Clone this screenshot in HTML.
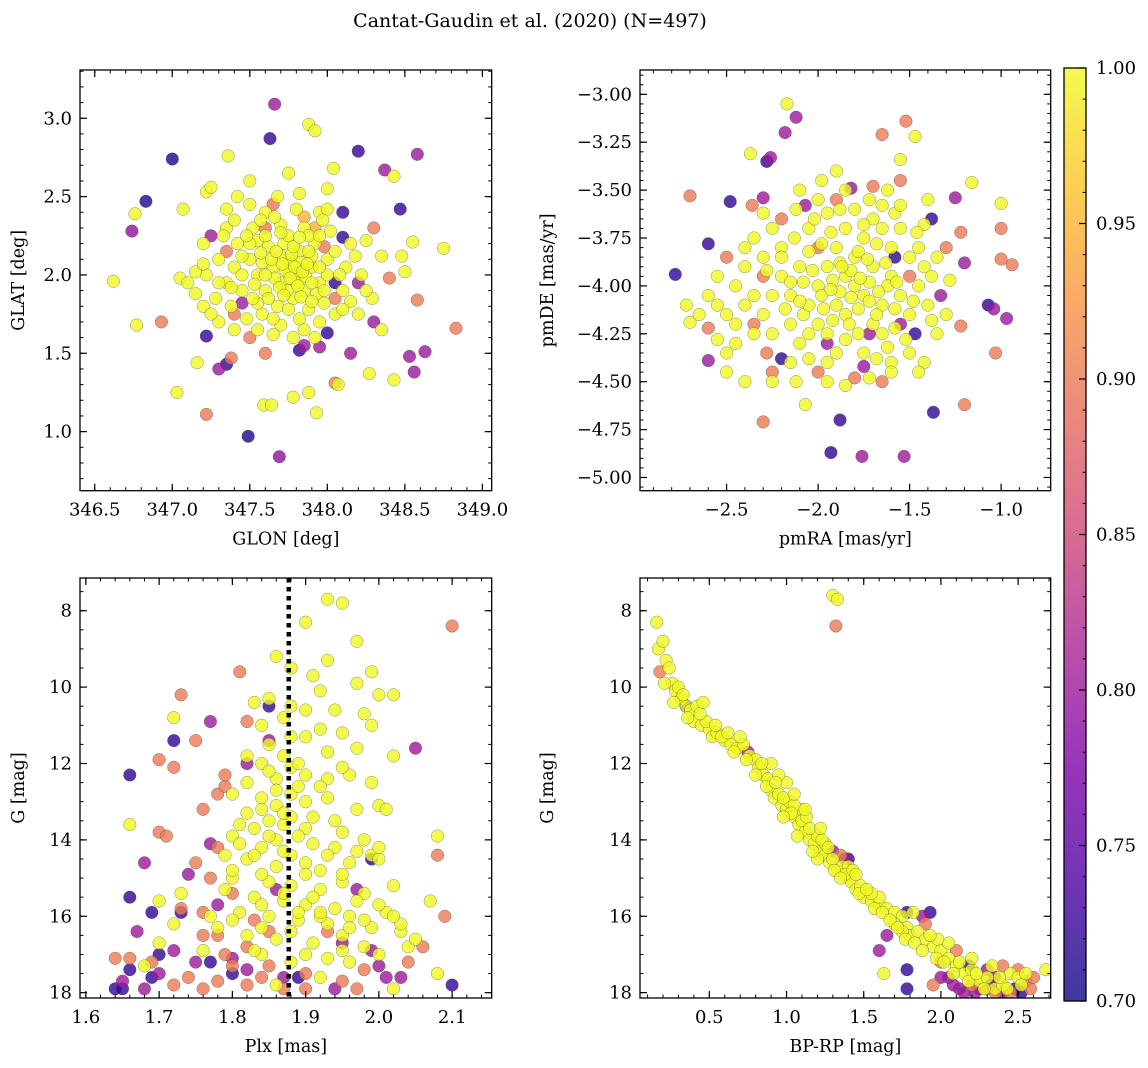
<!DOCTYPE html>
<html><head><meta charset="utf-8"><style>
html,body{margin:0;padding:0;background:#fff}
svg{display:block;font-family:"DejaVu Serif","Liberation Serif",serif}
</style></head><body>
<svg id="fig" width="1148" height="1068" viewBox="0 0 1148 1068" xmlns="http://www.w3.org/2000/svg">
<text x="530" y="27" font-size="19" text-anchor="middle">Cantat-Gaudin et al. (2020) (N=497)</text>
<defs><linearGradient id="cg" x1="0" y1="1" x2="0" y2="0">
<stop offset="0" stop-color="#0d0887"/><stop offset="0.125" stop-color="#4c02a1"/><stop offset="0.25" stop-color="#7e03a8"/><stop offset="0.375" stop-color="#a92395"/><stop offset="0.5" stop-color="#cc4778"/><stop offset="0.625" stop-color="#e56b5d"/><stop offset="0.75" stop-color="#f89441"/><stop offset="0.875" stop-color="#fdc328"/><stop offset="1" stop-color="#f0f921"/></linearGradient></defs>
</svg>
<script>
// ---- data: [x, y, membership] ----
const posPoints = [
[347.66,3.09,0.8],[347.63,2.87,0.72],[347.0,2.74,0.71],[346.83,2.47,0.71],[346.74,2.28,0.79],[346.76,2.39,1],[346.62,1.96,1],[346.77,1.68,1],[346.93,1.70,0.9],[347.03,1.25,1],[347.22,1.11,0.9],[347.49,0.97,0.71],[347.69,0.84,0.79],[347.36,2.76,1],[347.88,2.96,1],[348.2,2.79,0.72],[348.37,2.67,0.8],[348.58,2.77,0.8],[348.43,2.63,1],[348.47,2.42,0.72],[348.04,2.68,1],[347.92,2.92,1],[348.83,1.66,0.9],[348.58,1.84,0.9],[348.63,1.51,0.8],[348.53,1.48,0.8],[348.56,1.38,0.8],[348.43,1.33,1],[348.27,1.37,1],[348.05,1.31,0.9],[348.07,1.30,1],[347.88,1.25,1],[347.93,1.12,1],[347.59,1.17,1],[347.64,1.17,1],[347.78,1.22,1],[347.3,1.4,0.8],[347.35,1.43,0.72],[347.22,1.61,0.72],[347.16,1.44,1],[347.38,1.47,0.9],[347.05,1.98,1],[347.07,2.42,1],[347.22,2.53,1],[347.25,2.56,1],[347.5,2.6,1],[347.75,2.65,1],[347.82,2.52,1],[347.95,2.4,1],[348.0,2.42,1],[348.1,2.4,0.72],[348.3,2.3,0.9],[348.25,2.22,1],[348.35,2.12,1],[348.48,2.12,1],[348.55,2.21,1],[348.75,2.17,1],[348.5,2.02,1],[348.4,1.98,0.9],[348.29,1.85,1],[348.15,1.83,1],[348.05,1.95,0.72],[348.1,2.24,0.72],[348.0,1.63,0.72],[347.95,1.54,0.8],[347.82,1.52,0.72],[347.5,1.6,0.9],[347.3,1.7,1],[347.2,1.8,1],[347.1,1.95,1],[347.2,2.2,1],[347.25,2.25,0.8],[347.35,2.3,1],[348.3,1.7,0.8],[348.35,1.65,1],[348.2,1.95,0.8],[348.15,1.5,0.8],[347.6,2.3,0.9],[347.6,1.5,0.9],
[347.5,2.1,1],[347.55,2.0,1],[347.6,1.9,1],[347.65,2.05,1],[347.7,1.95,1],[347.75,2.1,1],[347.8,2.0,1],[347.85,1.9,1],[347.9,2.05,1],[347.95,1.95,1],[348.0,2.1,1],[347.72,2.2,1],[347.82,2.15,1],[347.62,2.18,1],[347.92,2.2,1],[347.78,1.85,1],[347.68,1.8,1],[347.88,1.78,1],[347.58,1.75,1],[347.98,1.82,1],[347.45,1.9,1],[347.4,2.05,1],[347.42,2.2,1],[347.52,2.3,1],[347.7,2.32,1],[347.85,2.3,1],[348.02,2.28,1],[347.35,1.95,1],[347.38,1.8,1],[347.48,1.72,1],[347.7,1.68,1],[347.85,1.65,1],[348.05,1.75,1],[348.1,1.9,1],[348.12,2.05,1],[347.3,2.1,1],[347.28,1.85,1],[347.6,2.4,1],[347.8,2.42,1],[347.5,2.45,1],[347.4,2.35,1],[347.65,1.62,1],[347.75,2.02,1],[347.8,1.95,1],[347.74,1.9,1],[347.83,2.08,1],[347.66,1.98,1],[347.77,2.07,1],[347.86,1.99,1],[347.7,2.12,1],[347.9,2.12,1],[347.58,2.08,1],[347.62,1.85,1],[347.93,1.88,1],[348.18,2.12,1],[347.22,2.0,1],[347.15,2.02,1],[347.55,2.22,1],[347.97,2.35,1],[347.33,2.25,1],[347.45,2.0,1],[347.88,2.25,1],[347.55,1.82,1],[347.82,1.72,1],[348.2,1.75,1],[347.25,1.75,1],[347.4,1.65,1],[347.75,2.25,1],[348.0,2.0,1],[347.95,1.7,1]
];
const posCore = [
[347.73,2.03,1],[347.79,2.05,1],[347.84,2.02,1],[347.76,1.98,1],[347.71,2.07,1],[347.81,1.93,1],[347.87,2.07,1],[347.69,1.92,1],[347.77,2.13,1],[347.64,2.1,1],[347.9,1.95,1],[347.72,1.87,1],[347.83,1.86,1],[347.67,2.15,1],[347.95,2.05,1],[347.6,2.0,1],[347.53,1.94,1],[347.78,2.18,1],[347.88,2.15,1],[347.57,2.14,1],[347.98,1.9,1],[347.65,1.72,1],[347.75,1.78,1],[347.9,1.83,1],[347.5,2.2,1],[348.05,2.15,1],[347.6,2.25,1],[347.82,2.24,1],[347.45,2.12,1],[347.52,1.85,1],[348.08,2.0,1],[347.7,2.27,1],[347.95,2.25,1],[347.38,1.92,1],[347.48,2.25,1],[347.92,2.3,0.95],[347.57,2.35,1],[347.66,2.37,1],[348.15,2.2,1],[348.1,1.78,1],[347.4,1.75,0.9],[347.35,2.15,0.9],[347.45,1.82,0.8],[347.98,2.18,0.9],[348.05,1.85,0.9],[347.85,2.37,0.95],[347.3,1.95,1],[347.65,2.45,0.9],[347.78,1.6,1],[347.92,1.6,1],[347.55,1.65,1],[348.22,2.0,1],[347.2,2.07,1],[347.35,2.42,1],[348.0,2.55,1],[347.85,1.55,0.8],[347.68,2.5,1],[347.42,2.5,1],[348.25,1.9,1],[347.15,1.88,1]
];
const pmPoints = [
[-2.78,-3.94,0.72],[-2.7,-3.53,0.9],[-2.48,-3.56,0.72],[-2.6,-3.78,0.72],[-2.6,-4.39,0.8],[-2.6,-4.22,0.9],[-2.72,-4.1,1],[-2.7,-4.19,1],[-2.3,-4.71,0.9],[-2.07,-4.62,1],[-1.88,-4.7,0.72],[-1.93,-4.87,0.72],[-1.76,-4.89,0.8],[-1.53,-4.89,0.8],[-1.37,-4.66,0.72],[-1.2,-4.62,0.9],[-1.03,-4.35,0.9],[-0.94,-3.89,0.9],[-1.0,-3.86,0.9],[-1.0,-3.57,1],[-1.0,-3.7,0.9],[-1.07,-4.1,0.72],[-1.04,-4.12,0.8],[-0.97,-4.17,0.8],[-1.16,-3.46,1],[-1.25,-3.54,0.8],[-1.47,-3.22,1],[-1.52,-3.14,0.9],[-1.65,-3.21,0.9],[-2.17,-3.05,1],[-2.12,-3.12,0.8],[-2.18,-3.2,0.8],[-2.28,-3.35,0.72],[-2.26,-3.33,0.8],[-2.37,-3.31,1],[-2.36,-3.58,0.9],[-2.3,-3.54,0.8],[-2.07,-3.58,0.8],[-1.82,-3.49,0.8],[-1.7,-3.48,0.9],[-1.55,-3.45,0.9],[-1.55,-3.34,1],[-1.42,-3.68,1],[-1.38,-3.65,0.72],[-1.3,-3.8,0.9],[-1.22,-3.72,0.9],[-1.2,-3.88,0.8],[-1.28,-3.97,1],[-1.33,-4.05,0.8],[-1.22,-4.21,0.9],[-1.3,-4.15,1],[-1.38,-4.18,1],[-1.47,-4.25,0.72],[-1.42,-4.4,1],[-1.6,-4.4,1],[-1.65,-4.5,0.9],[-1.8,-4.48,0.9],[-1.85,-4.52,1],[-2.0,-4.45,0.9],[-2.2,-4.38,0.72],[-2.25,-4.45,0.9],[-2.4,-4.5,1],[-2.5,-4.45,1],[-2.45,-4.3,1],[-2.55,-4.28,1],[-2.6,-4.05,1],[-2.55,-3.95,1],[-2.5,-3.85,0.9],[-2.35,-3.75,1],[-2.2,-3.8,1],[-2.3,-3.95,0.9],[-2.4,-4.1,1],[-2.35,-4.2,0.9],[-2.28,-4.35,0.9],[-2.12,-4.5,1],[-1.95,-4.3,0.8],[-1.72,-4.25,0.8],[-1.55,-4.2,0.8],[-1.58,-3.85,0.72],[-1.5,-3.95,0.9],[-2.0,-3.8,0.9],[-2.08,-4.15,1],[-1.46,-3.72,1],
[-1.8,-4.0,1],[-1.85,-3.95,1],[-1.75,-4.05,1],[-1.9,-4.1,1],[-1.7,-3.9,1],[-1.95,-3.9,1],[-1.65,-4.1,1],[-1.8,-3.85,1],[-1.85,-4.15,1],[-1.7,-4.2,1],[-2.0,-4.0,1],[-2.05,-4.1,1],[-1.6,-3.95,1],[-1.55,-4.05,1],[-2.1,-3.9,1],[-1.9,-3.8,1],[-1.75,-3.75,1],[-1.6,-3.8,1],[-2.0,-4.2,1],[-1.95,-4.25,1],[-1.65,-4.25,1],[-1.5,-4.15,1],[-2.15,-4.05,1],[-2.2,-3.85,1],[-1.85,-3.7,1],[-2.05,-3.7,1],[-1.7,-3.65,1],[-1.5,-3.85,1],[-1.45,-4.0,1],[-2.15,-4.2,1],[-2.25,-4.05,1],[-1.78,-4.12,1],[-1.88,-4.03,1],[-1.72,-3.98,1],[-1.62,-4.0,1],[-1.92,-3.97,1],[-1.82,-3.92,1],[-1.98,-4.05,1],[-1.68,-4.15,1],[-1.58,-4.12,1],[-2.08,-3.98,1],[-1.95,-3.62,1],[-1.8,-3.6,1],[-2.0,-3.55,1],[-1.65,-3.58,1],[-2.25,-3.7,1],[-2.3,-3.85,1],[-2.4,-3.9,1],[-1.42,-3.9,1],[-1.4,-4.1,1],[-1.9,-4.35,1],[-1.75,-4.35,1],[-2.1,-4.3,1],[-1.62,-4.32,1],[-2.45,-4.0,1],[-1.55,-3.7,1],[-2.12,-3.6,1],[-1.78,-3.82,1],[-1.88,-3.88,1],[-2.05,-3.82,1],[-1.92,-4.18,1],[-1.72,-4.08,1],[-1.52,-4.28,1],[-2.3,-4.15,1],[-1.85,-3.5,1],[-2.2,-3.95,1],[-1.98,-3.45,1],[-2.35,-4.25,1],[-2.5,-4.15,1],[-1.35,-3.85,1],[-2.15,-4.4,1],[-1.5,-4.35,1],[-1.98,-3.78,1]
];
const pmCore = [
[-1.82,-4.06,1],[-1.77,-3.96,1],[-1.87,-3.9,1],[-1.73,-3.86,1],[-1.67,-4.03,1],[-1.93,-4.02,1],[-1.83,-4.2,1],[-1.78,-4.25,1],[-1.63,-3.88,1],[-1.57,-3.98,1],[-2.03,-3.92,1],[-2.1,-4.08,1],[-1.97,-4.12,1],[-1.68,-3.78,1],[-1.93,-3.72,1],[-2.02,-3.65,1],[-1.75,-3.68,1],[-1.58,-3.62,1],[-2.13,-3.75,1],[-2.18,-4.12,1],[-2.05,-4.25,1],[-1.58,-4.22,1],[-1.48,-4.08,1],[-1.45,-3.8,1],[-2.28,-3.92,1],[-2.35,-4.05,1],[-1.88,-3.6,1],[-1.72,-3.55,1],[-1.85,-4.28,1],[-1.68,-4.38,1],[-2.25,-4.25,1],[-1.95,-4.4,1],[-2.4,-3.8,1],[-2.45,-4.2,1],[-1.38,-3.95,1],[-1.6,-4.45,1],[-1.9,-3.55,0.9],[-2.2,-3.65,0.9],[-1.75,-4.42,0.8],[-2.05,-4.38,1],[-1.45,-4.45,1],[-2.5,-4.35,1],[-1.35,-4.25,1],[-2.55,-4.1,1],[-2.25,-4.5,1],[-1.9,-3.4,1],[-1.62,-3.5,1],[-2.1,-3.5,1],[-2.3,-3.62,1],[-1.4,-3.55,1],[-2.65,-4.15,1],[-1.55,-3.58,1],[-2.15,-3.98,1],[-1.65,-3.7,1],[-1.95,-4.5,1],[-1.72,-4.48,1]
];
const plxPoints = [
[1.93,7.7,1],[1.95,7.8,1],[1.9,8.3,1],[1.97,8.8,1],[1.86,9.2,1],[1.93,9.3,1],[1.88,9.5,1],[1.91,9.7,1],[1.99,9.6,1],[1.97,9.9,1],[2.0,10.2,1],[2.02,10.2,1],[1.92,10.1,1],[1.85,10.3,1],[1.83,10.4,1],[1.88,10.5,1],[1.9,10.6,1],[1.94,10.6,1],[1.98,10.7,1],[1.87,10.8,1],[1.84,11.0,1],[1.92,11.1,1],[1.95,11.2,1],[1.88,11.3,1],[1.9,11.3,1],[1.85,11.5,1],[1.82,11.8,1],[1.87,11.8,1],[1.93,11.7,1],[1.97,11.6,1],[2.02,11.8,1],[1.72,10.8,1],[1.99,11.0,1],[1.84,12.0,1],[1.88,12.1,1],[1.9,12.3,1],[1.86,12.4,1],[1.82,12.5,1],[1.93,12.4,1],[1.96,12.3,1],[1.8,12.8,1],[1.84,12.9,1],[1.88,12.8,1],[1.86,13.1,1],[1.9,13.0,1],[1.93,12.9,1],[1.97,13.2,1],[2.0,13.1,1],[1.82,13.3,1],[1.85,13.5,1],[1.88,13.4,1],[1.83,13.7,1],[1.87,13.6,1],[1.9,13.7,1],[1.95,13.8,1],[1.8,13.9,1],[1.86,14.0,1],[1.91,14.1,1],[1.94,14.2,1],[1.97,14.3,1],[1.99,14.4,1],[1.84,14.2,1],[1.88,14.4,1],[1.82,14.5,1],[1.86,14.7,1],[1.9,14.6,1],[1.92,14.8,1],[1.96,14.6,1],[2.0,14.5,1],[1.8,15.0,1],[1.85,15.1,1],[1.88,15.2,1],[1.92,15.3,1],[1.95,15.1,1],[1.98,15.4,1],[2.02,15.2,1],[1.83,15.5,1],[1.87,15.6,1],[1.9,15.7,1],[1.94,15.8,1],[1.97,15.6,1],[2.01,15.9,1],[1.81,15.9,1],[1.85,16.0,1],[1.89,16.1,1],[1.93,16.2,1],[1.96,16.0,1],[1.99,16.3,1],[2.03,16.4,1],[1.78,16.3,1],[1.82,16.5,1],[1.86,16.6,1],[1.91,16.7,1],[1.95,16.5,1],[1.98,16.8,1],[2.0,17.0,1],[2.04,16.8,1],[1.76,16.9,1],[1.84,17.0,1],[1.88,17.2,1],[1.93,17.1,1],[2.08,13.9,1],[2.07,15.6,1],[2.08,17.5,1],[1.73,15.4,1],[1.7,16.7,1],[1.7,15.6,1],[1.72,16.2,1],[1.68,17.3,1],[1.86,17.8,1],[1.92,17.6,1],[2.02,17.9,1],[1.66,13.6,1],[1.77,16.0,1],[1.98,16.1,1],[2.03,16.2,1],[1.8,14.8,1],[1.89,15.9,1],[1.93,14.4,1],[2.01,13.2,1],
[2.1,8.4,0.9],[1.73,10.2,0.9],[1.81,9.6,0.9],[1.75,11.4,0.9],[1.7,11.9,0.9],[1.72,12.1,0.9],[1.78,12.8,0.9],[1.79,12.6,0.9],[1.7,13.8,0.9],[1.71,13.9,0.9],[1.77,15.0,0.9],[1.73,15.8,0.9],[1.76,15.9,0.9],[1.69,17.2,0.9],[1.64,17.1,0.9],[1.66,17.1,0.9],[1.74,17.6,0.9],[1.78,17.7,0.9],[1.8,17.3,0.9],[1.82,17.8,0.9],[1.84,17.6,0.9],[1.87,17.9,0.9],[1.9,17.5,0.9],[1.95,17.7,0.9],[1.98,17.4,0.9],[2.06,16.8,0.9],[2.08,14.4,0.9],[2.09,16.0,0.9],[1.8,15.4,0.9],[1.82,16.8,0.9],[1.75,14.6,0.9],[1.78,16.5,0.9],[1.85,16.4,0.9],
[1.77,10.9,0.8],[1.82,12.0,0.8],[1.85,11.4,0.8],[2.05,11.6,0.8],[1.68,14.6,0.8],[1.77,14.1,0.8],[1.74,14.9,0.8],[1.86,15.3,0.8],[1.95,16.7,0.8],[1.99,16.9,0.8],[2.03,17.6,0.8],[1.72,16.9,0.8],[1.7,17.5,0.8],[1.65,17.7,0.8],[1.75,17.2,0.8],[1.8,17.1,0.8],[2.01,17.6,0.8],[1.67,16.4,0.8],[1.78,15.7,0.8],[1.97,15.3,0.8],[1.68,17.9,0.8],
[1.66,12.3,0.72],[1.72,11.4,0.72],[1.85,10.5,0.72],[1.99,14.5,0.72],[1.66,15.5,0.72],[1.69,15.9,0.72],[1.73,15.9,0.72],[1.64,17.9,0.72],[1.65,17.9,0.72],[1.66,17.4,0.72],[1.69,17.6,0.72],[1.8,17.5,0.72],[2.1,17.8,0.72],[1.7,17.0,0.72]
];
const plxCore = [
[1.86,12.7,1],[1.89,12.6,1],[1.84,13.2,1],[1.87,13.3,1],[1.91,13.4,1],[1.85,13.9,1],[1.89,13.9,1],[1.83,14.4,1],[1.87,14.3,1],[1.9,14.9,1],[1.84,14.9,1],[1.87,15.4,1],[1.91,15.5,1],[1.84,15.7,1],[1.92,16.0,1],[1.88,16.4,1],[1.84,16.3,1],[1.96,16.3,1],[1.92,15.9,1],[1.95,14.9,1],[1.94,13.5,1],[1.81,14.1,1],[1.89,12.0,1],[1.92,12.6,1],[1.85,12.2,1],[1.95,12.1,1],[2.0,15.7,1],[2.02,16.0,1],[2.05,16.6,1],[1.96,17.2,1],[1.8,16.1,1],[1.83,16.9,1],[1.79,15.3,1],[1.81,13.6,1],[1.79,14.4,1],[1.98,14.0,1],[1.99,12.5,1],[2.0,14.2,1],[1.95,16.9,1],[1.9,17.0,1],[1.76,16.5,0.9],[1.79,17.0,0.9],[1.85,17.3,0.9],[1.9,17.9,0.9],[1.97,17.9,0.9],[1.76,17.9,0.9],[1.72,17.8,0.9],[2.0,17.3,0.8],[1.87,17.6,0.8],[1.82,17.4,0.8],[1.93,16.4,0.9],[1.83,16.1,0.9],[1.78,14.2,0.9],[1.76,13.2,0.9],[1.79,12.3,0.9],[1.82,10.9,0.9],[1.77,17.2,0.72],[1.89,17.6,0.72],[1.94,17.9,0.8],[2.04,17.2,0.9]
];
const cmdPoints = [
[0.16,8.3,1],[0.17,9.0,1],[0.2,8.8,1],[0.22,9.3,1],[0.24,9.5,1],[0.26,9.9,1],[0.28,10.1,1],[0.3,10.0,1],[0.32,10.3,1],[0.35,10.5,1],[0.38,10.6,1],[0.4,10.9,1],[0.42,10.5,1],[0.45,11.0,1],[0.5,11.1,1],[0.52,11.3,1],[0.55,11.2,1],[0.6,11.4,1],[0.64,11.5,1],[0.68,11.6,1],[0.72,11.5,1],[0.76,11.8,1],[0.8,11.9,1],[0.82,12.1,1],[0.85,12.3,1],[0.88,12.4,1],[0.9,12.7,1],[0.92,12.9,1],[0.95,12.8,1],[0.97,13.1,1],[1.0,13.2,1],[1.02,13.0,1],[1.05,13.4,1],[1.08,13.6,1],[1.1,13.5,1],[1.12,13.8,1],[1.15,14.0,1],[1.18,14.1,1],[1.2,13.9,1],[1.22,14.3,1],[1.25,14.4,1],[1.28,14.6,1],[1.3,14.5,1],[1.33,14.8,1],[1.36,14.7,1],[1.4,15.0,1],[1.42,15.1,1],[1.45,15.3,1],[1.48,15.2,1],[1.5,15.5,1],[1.55,15.6,1],[1.6,15.7,1],[1.65,15.8,1],[1.7,15.9,1],[1.75,16.0,1],[1.78,16.3,1],[1.8,16.5,1],[1.85,16.4,1],[1.9,16.6,1],[1.95,16.8,1],[2.0,16.9,1],[2.05,17.1,1],[2.1,17.3,1],[2.15,17.5,1],[2.2,17.4,1],[2.25,17.7,1],[2.3,17.6,1],[2.35,17.9,1],[2.4,17.8,1],[2.45,17.5,1],[2.5,17.6,1],[2.68,17.4,1],[1.3,7.6,1],[1.33,7.7,1],[1.63,17.5,1],[1.0,12.5,1],[0.95,12.3,1],[1.1,13.2,1],[1.2,14.5,1],[0.7,11.3,1],[1.6,15.5,1],[1.75,16.4,1],[2.05,16.7,1],[0.9,12.0,1],[1.4,14.7,1],[0.33,10.2,1],[0.48,10.9,1],[1.15,13.7,1],[1.38,14.9,1],[2.2,17.1,1],[1.55,15.4,1],[1.82,15.9,1],[1.98,16.6,1],[0.58,11.3,1],[1.7,16.2,1],[1.25,14.1,1],[1.05,13.1,1],
[0.18,9.6,0.9],[1.32,8.4,0.9],[2.4,17.3,0.9],[2.55,17.7,0.9],[2.58,17.9,0.9],[2.2,17.8,0.9],[1.95,17.8,0.9],[2.3,17.9,0.9],[2.5,17.4,0.9],[2.1,16.9,0.9],[1.9,16.2,0.9],[1.35,14.4,0.9],[2.45,18.0,0.9],[2.0,17.2,0.9],
[1.6,16.9,0.8],[2.05,17.6,0.8],[2.12,17.9,0.8],[2.15,18.0,0.8],[2.25,17.9,0.8],[2.35,17.6,0.8],[2.0,17.6,0.8],[1.65,16.5,0.8],[2.4,18.0,0.8],[0.75,11.7,0.8],[1.38,14.5,0.8],[2.3,17.4,0.8],
[1.78,17.4,0.72],[1.78,17.9,0.72],[2.48,17.9,0.72],[1.78,15.9,0.72],[1.93,15.9,0.72],[1.4,14.5,0.72],[0.35,10.5,0.72],[2.32,17.8,0.72]
];
const cmdCore = [
[0.21,9.9,1],[0.27,10.4,1],[0.36,10.8,1],[0.44,10.7,1],[0.54,11.0,1],[0.62,11.2,1],[0.66,11.7,1],[0.74,11.9,1],[0.84,12.0,1],[0.87,12.6,1],[0.93,12.5,1],[0.98,12.9,1],[1.03,13.3,1],[0.98,13.4,1],[1.07,13.9,1],[1.13,13.4,1],[1.17,14.3,1],[1.23,14.0,1],[1.27,14.2,1],[1.31,14.8,1],[1.35,15.0,1],[1.43,14.8,1],[1.47,15.4,1],[1.52,15.3,1],[1.57,15.8,1],[1.62,15.9,1],[1.67,16.1,1],[1.72,16.3,1],[1.77,16.6,1],[1.83,16.7,1],[1.88,16.9,1],[1.93,16.5,1],[1.97,17.1,1],[2.02,17.2,1],[2.08,17.5,1],[2.12,17.2,1],[2.18,17.7,1],[2.23,17.5,1],[2.28,17.9,1],[2.33,17.3,1],[2.38,17.6,1],[2.43,17.9,1],[2.52,17.8,1],[2.55,17.5,1],[1.05,12.8,1],[1.12,13.2,1],[1.22,13.7,1],[1.45,14.9,1],[0.8,12.3,1],[0.46,10.4,1],[2.6,17.6,0.9],[2.35,18.0,0.9],[2.22,18.0,0.8],[2.08,17.8,0.8],[1.88,16.0,0.8],[1.3,14.3,0.8],[2.52,18.0,0.72],[2.18,17.3,0.72]
];
const tlXTicks = [346.5,347.0,347.5,348.0,348.5,349.0];
const tlYTicks = [1.0,1.5,2.0,2.5,3.0];
const trXTicks = [-2.5,-2.0,-1.5,-1.0];
const trYTicks = [-5.0,-4.75,-4.5,-4.25,-4.0,-3.75,-3.5,-3.25,-3.0];
const blXTicks = [1.6,1.7,1.8,1.9,2.0,2.1];
const gTicks = [8,10,12,14,16,18];
const brXTicks = [0.5,1.0,1.5,2.0,2.5];
const cbTicks = [0.70,0.75,0.80,0.85,0.90,0.95,1.00];
const plxMedian = 1.877;

const NS="http://www.w3.org/2000/svg";
const svg=document.getElementById('fig');
function mk(tag,attrs,parent){const e=document.createElementNS(NS,tag);for(const k in attrs)e.setAttribute(k,attrs[k]);(parent||svg).appendChild(e);return e;}
const stops=[[13,8,135],[76,2,161],[126,3,168],[169,35,149],[204,71,120],[229,107,93],[248,148,65],[253,195,40],[240,249,33]];
function plasma(p){let t=(p-0.7)/0.3;t=Math.max(0,Math.min(1,t));const s=t*8,i=Math.min(7,Math.floor(s)),f=s-i;const a=stops[i],b=stops[i+1];return `rgb(${Math.round(a[0]+(b[0]-a[0])*f)},${Math.round(a[1]+(b[1]-a[1])*f)},${Math.round(a[2]+(b[2]-a[2])*f)})`;}
function fmt(v,d){const s=v.toFixed(d);return v<0?'\u2212'+s.slice(1):s;}
const FS=18;

function panel(o){
  const g=mk('g',{});
  
  
  const sx=v=>o.x0+(v-o.xd[0])/(o.xd[1]-o.xd[0])*(o.x1-o.x0);
  const sy=o.inv ? (v=>o.y0+(v-o.yd[0])/(o.yd[1]-o.yd[0])*(o.y1-o.y0))
                 : (v=>o.y1-(v-o.yd[0])/(o.yd[1]-o.yd[0])*(o.y1-o.y0));
  const cl='cl'+o.name;
  const cp=mk('clipPath',{id:cl},g);mk('rect',{x:o.x0,y:o.y0,width:o.x1-o.x0,height:o.y1-o.y0},cp);
  const pg=mk('g',{'clip-path':`url(#${cl})`},g);
  const pts=o.data.slice().sort((a,b)=>a[2]-b[2]);
  pts.forEach(d=>{
    const c=mk('circle',{cx:sx(d[0]).toFixed(1),cy:sy(d[1]).toFixed(1),r:6.3,fill:plasma(d[2]),'fill-opacity':0.8,stroke:'#444','stroke-opacity':0.6,'stroke-width':0.5},pg);
    
    
  });
  if(o.vline!==undefined){
    const l=mk('line',{x1:sx(o.vline),x2:sx(o.vline),y1:o.y0,y2:o.y1,stroke:'#000','stroke-width':4.5,'stroke-dasharray':'4.5 4.5'},g);
    
    
  }
  const lo=Math.min(o.yd[0],o.yd[1]),hi=Math.max(o.yd[0],o.yd[1]);
  for(let v=Math.ceil(o.xd[0]/o.xm-1e-9)*o.xm;v<=o.xd[1];v+=o.xm){const X=sx(v);mk('line',{x1:X,x2:X,y1:o.y1,y2:o.y1-3.5,stroke:'#000','stroke-width':1},g);mk('line',{x1:X,x2:X,y1:o.y0,y2:o.y0+3.5,stroke:'#000','stroke-width':1},g);}
  for(let v=Math.ceil(lo/o.ym-1e-9)*o.ym;v<=hi;v+=o.ym){const Y=sy(v);mk('line',{x1:o.x0,x2:o.x0+3.5,y1:Y,y2:Y,stroke:'#000','stroke-width':1},g);mk('line',{x1:o.x1,x2:o.x1-3.5,y1:Y,y2:Y,stroke:'#000','stroke-width':1},g);}
  o.xt.forEach(v=>{const X=sx(v);mk('line',{x1:X,x2:X,y1:o.y1,y2:o.y1-7,stroke:'#000','stroke-width':1.2},g);mk('line',{x1:X,x2:X,y1:o.y0,y2:o.y0+7,stroke:'#000','stroke-width':1.2},g);
    const t=mk('text',{x:X,y:o.y1+25,'font-size':FS,'text-anchor':'middle'},g);t.textContent=fmt(v,o.xdp);
    
    });
  o.yt.forEach(v=>{const Y=sy(v);mk('line',{x1:o.x0,x2:o.x0+7,y1:Y,y2:Y,stroke:'#000','stroke-width':1.2},g);mk('line',{x1:o.x1,x2:o.x1-7,y1:Y,y2:Y,stroke:'#000','stroke-width':1.2},g);
    const t=mk('text',{x:o.x0-8,y:Y+6,'font-size':FS,'text-anchor':'end'},g);t.textContent=fmt(v,o.ydp);
    
    });
  const fr=mk('rect',{x:o.x0,y:o.y0,width:o.x1-o.x0,height:o.y1-o.y0,fill:'none',stroke:'#000','stroke-width':1.3},g);
  
  
  const xl=mk('text',{x:(o.x0+o.x1)/2,y:o.y1+54,'font-size':17.5,'text-anchor':'middle'},g);xl.textContent=o.xlab;
  
  
  const yc=(o.y0+o.y1)/2;
  const yl=mk('text',{x:o.ylx,y:yc,'font-size':17.5,'text-anchor':'middle',transform:`rotate(-90 ${o.ylx} ${yc})`},g);yl.textContent=o.ylab;
  
  
}
panel({name:'position-panel',data:posPoints.concat(posCore),x0:80,x1:491.7,y0:70,y1:490.7,xd:[346.405,349.06],yd:[0.623,3.308],xt:tlXTicks,yt:tlYTicks,xm:0.1,ym:0.1,xdp:1,ydp:1,xlab:'GLON [deg]',ylab:'GLAT [deg]',ylx:24});
panel({name:'proper-motion-panel',data:pmPoints.concat(pmCore),x0:640,x1:1050.7,y0:70,y1:490.7,xd:[-2.973,-0.729],yd:[-5.069,-2.873],xt:trXTicks,yt:trYTicks,xm:0.1,ym:0.05,xdp:1,ydp:2,xlab:'pmRA [mas/yr]',ylab:'pmDE [mas/yr]',ylx:553});
panel({name:'parallax-panel',data:plxPoints.concat(plxCore),inv:true,x0:80,x1:491.7,y0:578,y1:998,xd:[1.592,2.154],yd:[7.143,18.14],xt:blXTicks,yt:gTicks,xm:0.02,ym:0.5,xdp:1,ydp:0,xlab:'Plx [mas]',ylab:'G [mag]',ylx:24,vline:plxMedian});
panel({name:'cmd-panel',data:cmdPoints.concat(cmdCore),inv:true,x0:640,x1:1050.7,y0:578,y1:998,xd:[0.051,2.711],yd:[7.143,18.14],xt:brXTicks,yt:gTicks,xm:0.1,ym:0.5,xdp:1,ydp:0,xlab:'BP-RP [mag]',ylab:'G [mag]',ylx:553});

(function(){
  const cg=mk('g',{});
  
  
  const cx0=1064,cx1=1086,cy0=68,cy1=1001;
  mk('rect',{x:cx0,y:cy0,width:cx1-cx0,height:cy1-cy0,fill:'url(#cg)','fill-opacity':0.8},cg);
  const cs=v=>cy1-(v-0.7)/0.3*(cy1-cy0);
  for(let k=0;k<=30;k++){const v=0.7+k*0.01;const Y=cs(v);if(k%5===0)continue;mk('line',{x1:cx1,x2:cx1-3.5,y1:Y,y2:Y,stroke:'#000','stroke-width':1},cg);}
  cbTicks.forEach(v=>{const Y=cs(v);mk('line',{x1:cx1,x2:cx1-7,y1:Y,y2:Y,stroke:'#000','stroke-width':1.2},cg);
    const t=mk('text',{x:cx1+10,y:Y+6,'font-size':FS},cg);t.textContent=v.toFixed(2);
    
    });
  mk('rect',{x:cx0,y:cy0,width:cx1-cx0,height:cy1-cy0,fill:'none',stroke:'#000','stroke-width':1.3},cg);
})();
</script>
</body></html>
